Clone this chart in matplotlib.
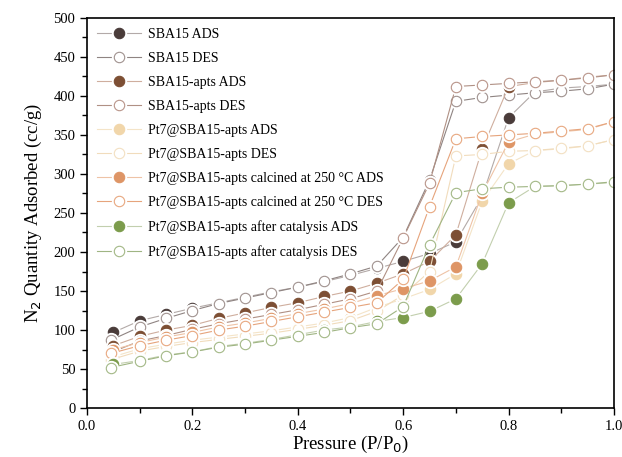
import matplotlib.pyplot as plt
from matplotlib.ticker import MultipleLocator
from matplotlib.legend_handler import HandlerTuple

plt.rcParams['font.family'] = ['Liberation Serif', 'DejaVu Serif']

# relative pressure points
p = [0.05, 0.10, 0.15, 0.20, 0.25, 0.30, 0.35, 0.40, 0.45, 0.50,
     0.55, 0.60, 0.65, 0.70, 0.75, 0.80, 0.85, 0.90, 0.95, 1.00]
p_des = [0.045] + p[1:]

# quantity adsorbed (cc/g)
sba15_ads = [97, 112, 120, 128, 135, 142, 149, 155, 162, 170,
             179, 188, 198, 213, 271, 372, 405, 410, 412, 415]
sba15_des = [87, 104, 115, 125, 134, 141, 148, 155, 163, 172,
             182, 219, 292, 393, 398, 401, 404, 406, 409, 415]
apts_ads = [80, 92, 100, 106, 115, 122, 129, 135, 143, 150,
            160, 172, 188, 222, 332, 412, 417, 420, 424, 427]
apts_des = [71, 86, 93, 101, 108, 114, 120, 126, 133, 140,
            150, 218, 288, 412, 414, 416, 418, 420, 423, 427]
pt7_ads = [66, 76, 82, 87, 91, 95, 99, 104, 109, 116,
           129, 140, 152, 172, 265, 313, 330, 332, 336, 344]
pt7_des = [62, 73, 79, 84, 88, 92, 96, 101, 106, 112,
           124, 145, 175, 323, 325, 329, 330, 333, 336, 344]
calc_ads = [75, 84, 91, 97, 104, 109, 115, 121, 127, 134,
            144, 153, 163, 181, 275, 341, 351, 354, 357, 367]
calc_des = [70, 80, 87, 93, 100, 105, 111, 117, 123, 129,
            135, 165, 258, 345, 348, 350, 352, 355, 358, 367]
cat_ads = [56, 61, 68, 72, 79, 83, 88, 94, 100, 104,
           111, 116, 124, 140, 185, 263, 284, 285, 287, 289]
cat_des = [52, 60, 67, 72, 78, 82, 87, 92, 97, 103,
           108, 130, 209, 276, 281, 283, 284, 285, 287, 290]

series = [
    ('SBA15 ADS', p, sba15_ads, '#4a3c3a', '#b3aaa8', True),
    ('SBA15 DES', p_des, sba15_des, '#a0928f', '#8f8482', False),
    ('SBA15-apts ADS', p, apts_ads, '#7d4f34', '#cfae9e', True),
    ('SBA15-apts DES', p_des, apts_des, '#b9958a', '#b09084', False),
    ('Pt7@SBA15-apts ADS', p, pt7_ads, '#f1d6aa', '#f4e4c8', True),
    ('Pt7@SBA15-apts DES', p_des, pt7_des, '#f3e0c2', '#f1dcbc', False),
    ('Pt7@SBA15-apts calcined at 250 \u00b0C ADS', p, calc_ads, '#de9566', '#eec3a6', True),
    ('Pt7@SBA15-apts calcined at 250 \u00b0C DES', p_des, calc_des, '#e8a880', '#e6a47c', False),
    ('Pt7@SBA15-apts after catalysis ADS', p, cat_ads, '#7c9c4c', '#c2cfae', True),
    ('Pt7@SBA15-apts after catalysis DES', p_des, cat_des, '#a3b886', '#9fb583', False),
]

fig = plt.figure(figsize=(6.22, 4.57), dpi=100)
ax = fig.add_axes([0.14, 0.107, 0.847, 0.854])

handles, labels = [], []
for i, (label, x, y, mcol, lcol, filled) in enumerate(series):
    z = 2 + i * 0.1
    fc = mcol if filled else 'white'
    ln, = ax.plot(x, y, '-', color=lcol, linewidth=0.8, zorder=z)
    # white halo gives the gap between line and symbol
    halo, = ax.plot(x, y, 'o', color='white', markersize=10, zorder=z + 0.01)
    mk, = ax.plot(x, y, 'o', markersize=7.5, markerfacecolor=fc,
                  markeredgecolor=mcol, markeredgewidth=0.8, zorder=z + 0.02)
    handles.append((ln, halo, mk))
    labels.append(label)

ax.set_xlim(0, 1.0)
ax.set_ylim(0, 500)
ax.xaxis.set_major_locator(MultipleLocator(0.2))
ax.xaxis.set_minor_locator(MultipleLocator(0.1))
ax.yaxis.set_major_locator(MultipleLocator(50))
ax.yaxis.set_minor_locator(MultipleLocator(25))
ax.tick_params(which='both', direction='out', top=False, right=False, labelsize=10.5)
ax.tick_params(which='major', length=5, width=1)
ax.tick_params(which='minor', length=3.5, width=1)
ax.xaxis.set_major_formatter(plt.FuncFormatter(lambda v, _: f'{v:.1f}'))
for s in ax.spines.values():
    s.set_linewidth(1.2)
    s.set_zorder(5)

ax.set_xlabel('Pressure (P/P$_0$)', fontsize=13.5, labelpad=1)
ax.set_ylabel('N$_2$ Quantity Adsorbed (cc/g)', fontsize=13.5, labelpad=7)

ax.legend(handles, labels, handler_map={tuple: HandlerTuple(ndivide=1, pad=0)},
          loc='upper left', frameon=False, fontsize=10, labelspacing=0.8,
          handlelength=3.2, handletextpad=0.5, borderaxespad=0.3,
          bbox_to_anchor=(0.0, 1.0))

fig.savefig('out.png', dpi=100)
